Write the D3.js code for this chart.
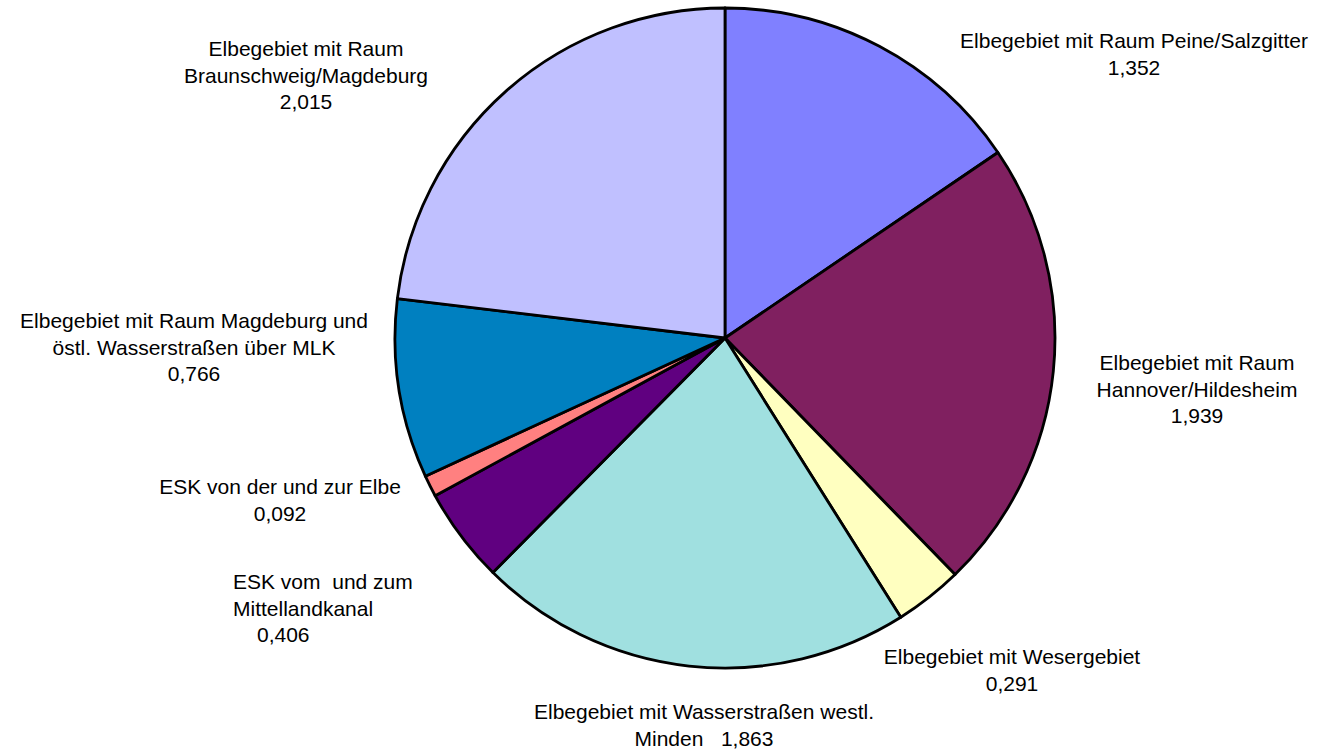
<!DOCTYPE html>
<html>
<head>
<meta charset="utf-8">
<script src="https://cdn.jsdelivr.net/npm/d3@7"></script>
<style>
  body { margin: 0; background: #fff; }
  text { font-family: "Liberation Sans", Arial, sans-serif; font-size: 21px; fill: #000; }
</style>
</head>
<body>
<div id="chart"></div>
<script>
// Slices, clockwise from 12 o'clock. "|" marks a line break in the label.
var categories = [
  "Elbegebiet mit Raum Peine/Salzgitter",
  "Elbegebiet mit Raum|Hannover/Hildesheim",
  "Elbegebiet mit Wesergebiet",
  "Elbegebiet mit Wasserstraßen westl.|Minden",
  "ESK vom  und zum|Mittellandkanal",
  "ESK von der und zur Elbe",
  "Elbegebiet mit Raum Magdeburg und|östl. Wasserstraßen über MLK",
  "Elbegebiet mit Raum|Braunschweig/Magdeburg"
];
var values = [1.352, 1.939, 0.291, 1.863, 0.406, 0.092, 0.766, 2.015];
var colors = ["#8080FF", "#802060", "#FFFFC0", "#A0E0E0", "#600080", "#FF8080", "#0080C0", "#C0C0FF"];

var width = 1317, height = 749;
var cx = 725, cy = 338, radius = 330;
var lineH = 26.5;

// label placement (hand placed, like the original)
var labelPos = [
  { x: 1134, y: 48,  anchor: "middle" },
  { x: 1197, y: 370, anchor: "middle" },
  { x: 1012, y: 664, anchor: "middle" },
  { x: 704,  y: 719, anchor: "middle", inline: true },
  { x: 233,  y: 589, anchor: "start", indent: [0, 0, 24] },
  { x: 280,  y: 494, anchor: "middle" },
  { x: 194,  y: 328, anchor: "middle" },
  { x: 306,  y: 56,  anchor: "middle" }
];

var de = d3.formatLocale({ decimal: ",", thousands: ".", grouping: [3], currency: ["", " €"] });
var fmt = de.format(".3f");

var svg = d3.select("#chart")
  .append("svg")
    .attr("width", width)
    .attr("height", height);

var pie = d3.pie().sort(null).value(function(d) { return d; });
var arc = d3.arc().innerRadius(0).outerRadius(radius);

var g = svg.append("g")
  .attr("transform", "translate(" + cx + "," + cy + ")");

g.selectAll("path")
  .data(pie(values))
  .enter()
  .append("path")
    .attr("d", arc)
    .attr("fill", function(d, i) { return colors[i]; })
    .attr("stroke", "#000")
    .attr("stroke-width", 2.8)
    .attr("stroke-linejoin", "round");

// labels
categories.forEach(function(name, i) {
  var p = labelPos[i];
  var lines = name.split("|");
  if (p.inline) lines[lines.length - 1] += "   " + fmt(values[i]);
  else lines.push(fmt(values[i]));

  var t = svg.append("text")
    .attr("text-anchor", p.anchor)
    .attr("xml:space", "preserve");
  lines.forEach(function(l, k) {
    t.append("tspan")
      .attr("x", p.x + (p.indent ? p.indent[k] : 0))
      .attr("y", p.y + k * lineH)
      .text(l);
  });
});
</script>
</body>
</html>
